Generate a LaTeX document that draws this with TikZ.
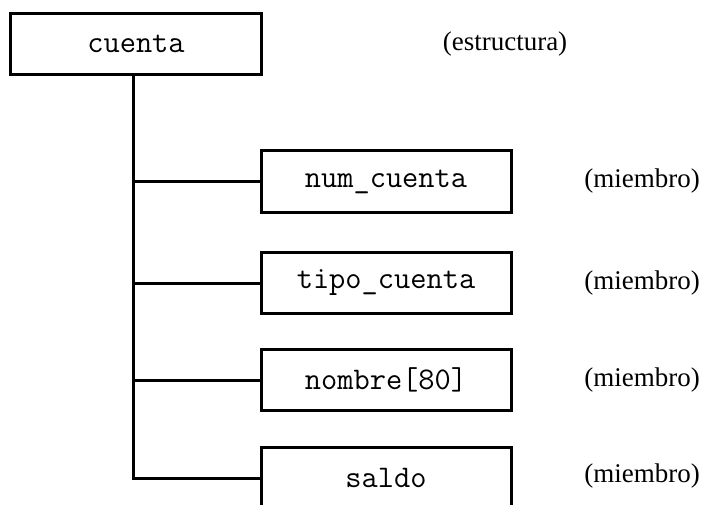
\documentclass[tikz,border=0pt]{standalone}
\usepackage{fontspec}
\setmainfont{Liberation Serif}
\setmonofont{Latin Modern Mono}
\begin{document}
\begin{tikzpicture}[x=1pt,y=-1pt,
  fieldbox/.style={draw=black, line width=3pt, minimum height=61pt, inner sep=0pt,
    font=\fontsize{31.5}{34}\selectfont\ttfamily},
  roottag/.style={font=\fontsize{27}{30}\selectfont, inner sep=0pt},
  link/.style={line width=3pt}]
\useasboundingbox (0,0) rectangle (706,505);
\node[fieldbox, minimum width=251pt] (cuenta) at (136,44) {cuenta};
\node[fieldbox, minimum width=250pt] (num) at (386,181.5) {num\_cuenta};
\node[fieldbox, minimum width=250pt] (tipo) at (386,283) {tipo\_cuenta};
\node[fieldbox, minimum width=250pt] (nombre) at (386,380) {nombre[80]};
\node[fieldbox, minimum width=250pt] (saldo) at (386,478) {saldo};
\node[roottag] (le) at (505,44) {(estructura)};
\node[roottag] (l1) at (642,181.5) {(miembro)};
\node[roottag] (l2) at (642,283) {(miembro)};
\node[roottag] (l3) at (642,380) {(miembro)};
\node[roottag] (l4) at (642,476) {(miembro)};
\coordinate (top) at ([xshift=-3pt]cuenta.south);
\draw[link] (top) |- (saldo.west);
\draw[link] (top) |- (num.west);
\draw[link] (top) |- (tipo.west);
\draw[link] (top) |- (nombre.west);
\end{tikzpicture}
\end{document}
